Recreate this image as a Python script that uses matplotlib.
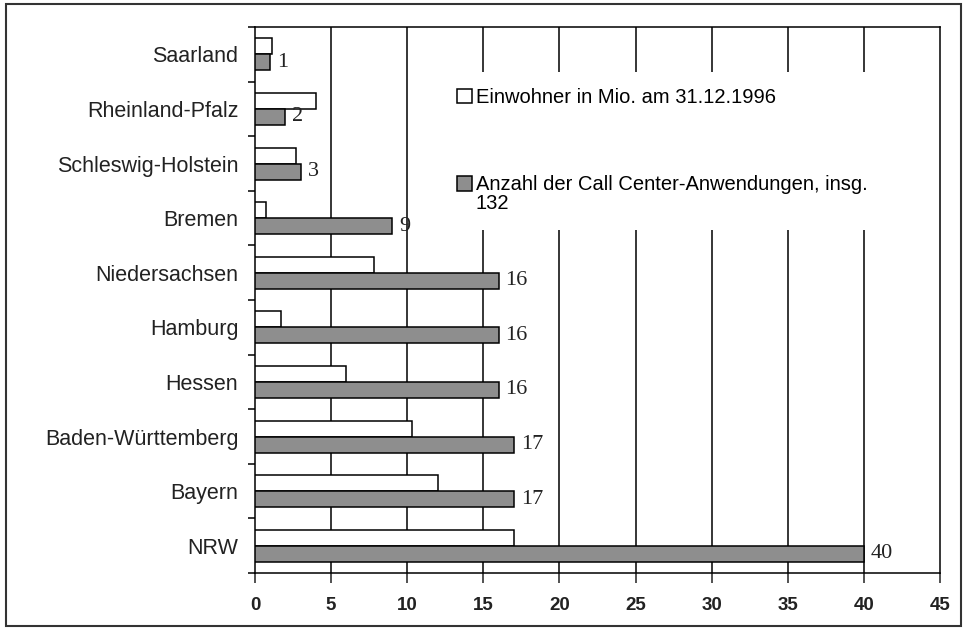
import matplotlib.pyplot as plt
from matplotlib.patches import Rectangle
from matplotlib.legend_handler import HandlerPatch

# Daten (von oben nach unten)
laender = ['Saarland', 'Rheinland-Pfalz', 'Schleswig-Holstein', 'Bremen',
           'Niedersachsen', 'Hamburg', 'Hessen', 'Baden-Württemberg',
           'Bayern', 'NRW']
einwohner = [1.1, 4.0, 2.7, 0.7, 7.8, 1.7, 6.0, 10.3, 12.0, 17.0]
call_center = [1, 2, 3, 9, 16, 16, 16, 17, 17, 40]
xticks = [0, 5, 10, 15, 20, 25, 30, 35, 40, 45]

lab_einw = 'Einwohner in Mio. am 31.12.1996'
lab_cc = 'Anzahl der Call Center-Anwendungen, insg.\n132'

plt.rcParams['font.family'] = ['Liberation Sans', 'DejaVu Sans']

fig = plt.figure(figsize=(9.66, 6.29), dpi=100)
ax = fig.add_axes([0.264, 0.089, 0.709, 0.868])

pos = list(range(len(laender)))
h = 0.293
b1 = ax.barh([p - h / 2 for p in pos], einwohner, height=h, color='white',
             edgecolor='black', linewidth=1.1, zorder=3)
b2 = ax.barh([p + h / 2 for p in pos], call_center, height=h, color='#8e8e8e',
             edgecolor='black', linewidth=1.1, zorder=3)

for p, v in zip(pos, call_center):
    ax.annotate(str(v), (v, p + h / 2), xytext=(5, 0), textcoords='offset points',
                va='center', ha='left', fontsize=16, family='Liberation Serif',
                color='#222222', zorder=4)

ax.set_xlim(0, 45)
ax.set_ylim(len(laender) - 0.5, -0.5)
ax.set_xticks(xticks)
ax.set_xticklabels([str(t) for t in xticks], fontsize=13.5, fontweight='bold')
ax.set_yticks(pos)
ax.set_yticklabels(laender, fontsize=15.5)
ax.set_yticks([p - 0.5 for p in range(len(laender) + 1)], minor=True)
ax.tick_params(axis='y', which='major', length=0, pad=12, colors='#222222')
ax.tick_params(axis='y', which='minor', length=5, width=1.1, direction='out')
ax.tick_params(axis='x', length=7, width=1.1, direction='out', pad=10,
               colors='#222222')
ax.tick_params(axis='both', labelcolor='#222222')

for t in xticks[1:-1]:
    ax.axvline(t, color='black', linewidth=1.1, zorder=1)
for s in ax.spines.values():
    s.set_linewidth(1.1)


def kaestchen_oben(legend, orig_handle, xdescent, ydescent, width, height, fontsize):
    # Kaestchen bei zweizeiliger Beschriftung auf Hoehe der ersten Zeile
    return Rectangle((-xdescent, -ydescent + 8), width, height)


h1 = b1.patches[0]
h2 = b2.patches[0]
leg = ax.legend([h1, h2], [lab_einw, lab_cc],
                loc='upper left', bbox_to_anchor=(0.271, 0.918), fontsize=14.5,
                frameon=True, fancybox=False, facecolor='white', edgecolor='none',
                framealpha=1, handlelength=0.75, handleheight=0.75,
                handletextpad=0.2, labelspacing=3.4, borderpad=0.8,
                borderaxespad=0,
                handler_map={h2: HandlerPatch(patch_func=kaestchen_oben)})
leg.set_zorder(5)
for t in leg.get_texts():
    t.set_linespacing(1.0)
for hd in leg.legend_handles:
    hd.set_linewidth(1.1)

# Rahmen um die ganze Abbildung
fig.patches.append(Rectangle((0.006, 0.004), 0.989, 0.99, transform=fig.transFigure,
                             fill=False, edgecolor='#333333', linewidth=1.5))

fig.savefig('out.png', dpi=100)
